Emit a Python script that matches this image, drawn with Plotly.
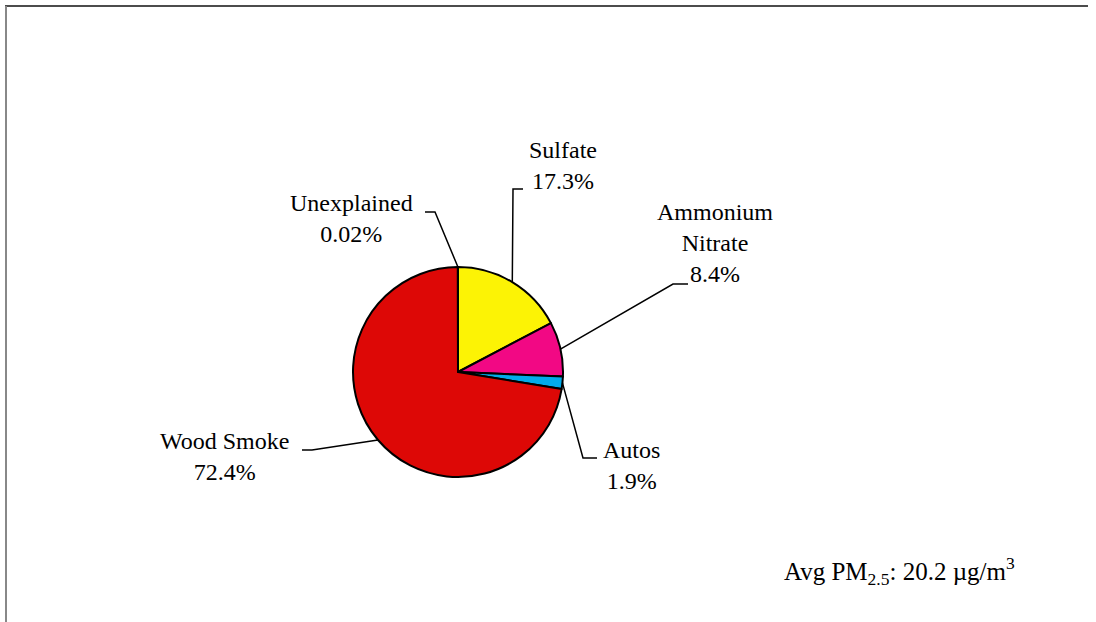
import math
import plotly.graph_objects as go

# PM2.5 source apportionment
sources = ["Sulfate", "Ammonium Nitrate", "Autos", "Wood Smoke", "Unexplained"]
source_lines = ["Sulfate", "Ammonium<br>Nitrate", "Autos", "Wood Smoke", "Unexplained"]
shares = [17.3, 8.4, 1.9, 72.4, 0.02]
slice_colors = ["#FCF305", "#F20884", "#02ABEA", "#DD0806", "#DD0806"]
avg_pm = 20.2

W, H = 1096, 622
CX, CY, R = 458, 372, 105
FONT = "Times New Roman, Liberation Serif, serif"
FS = 24
ASC = 22  # distance from box top to first baseline


def fx(x):
    """pixel column -> paper x"""
    return x / W


def fy(y):
    """pixel row (from top) -> paper y"""
    return 1 - y / H


# label placement: knee of the leader, end of the leader, label centre x, first baseline y
label_layout = {
    "Sulfate": dict(knee=(513, 189), end=(523, 189), x=563, base=157),
    "Ammonium Nitrate": dict(knee=(673, 284), end=(688, 284), x=715, base=219),
    "Autos": dict(knee=(583, 458), end=(597, 458), x=631, base=457),
    "Wood Smoke": dict(knee=(312, 450), end=(302, 450), x=224, base=448),
    "Unexplained": dict(knee=(435, 212), end=(425, 212), x=351, base=210),
}

fig = go.Figure()
fig.add_trace(go.Pie(
    labels=sources,
    values=shares,
    sort=False,
    direction="clockwise",
    rotation=0,
    textinfo="none",
    hoverinfo="label+percent",
    marker=dict(colors=slice_colors, line=dict(color="black", width=2)),
    domain=dict(x=[fx(CX - R), fx(CX + R)], y=[fy(CY + R), fy(CY - R)]),
    showlegend=False,
))

shapes = [
    dict(type="line", xref="paper", yref="paper", x0=fx(5), y0=fy(6), x1=fx(W - 8), y1=fy(6),
         line=dict(color="#111111", width=1.5)),
    dict(type="line", xref="paper", yref="paper", x0=fx(6), y0=fy(6), x1=fx(6), y1=0,
         line=dict(color="#888888", width=2)),
]
annotations = []

total = sum(shares)
cum = 0.0
for name, lines, v in zip(sources, source_lines, shares):
    mid = (cum + v / 2) / total * 2 * math.pi
    cum += v
    ax = CX + R * math.sin(mid)
    ay = CY - R * math.cos(mid)
    lay = label_layout[name]
    kx, ky = lay["knee"]
    ex, ey = lay["end"]
    shapes.append(dict(type="path", xref="paper", yref="paper",
                       path=(f"M {fx(ax):.5f} {fy(ay):.5f} L {fx(kx):.5f} {fy(ky):.5f} "
                             f"L {fx(ex):.5f} {fy(ey):.5f}"),
                       line=dict(color="black", width=1.5)))
    annotations.append(dict(
        x=fx(lay["x"]), y=fy(lay["base"] - ASC), xref="paper", yref="paper",
        xanchor="center", yanchor="top", align="center", showarrow=False,
        text=f"{lines}<br>{v}%",
        font=dict(family=FONT, size=FS, color="black"),
    ))

annotations.append(dict(
    x=fx(782), y=fy(573 - ASC), xref="paper", yref="paper",
    xanchor="left", yanchor="top", showarrow=False,
    text=f"Avg PM<sub>2.5</sub>: {avg_pm} µg/m<sup>3</sup>",
    font=dict(family=FONT, size=FS + 1, color="black"),
))

fig.update_layout(
    width=W, height=H,
    margin=dict(l=0, r=0, t=0, b=0),
    paper_bgcolor="white", plot_bgcolor="white",
    shapes=shapes,
    annotations=annotations,
)

fig.write_html("out.html")
